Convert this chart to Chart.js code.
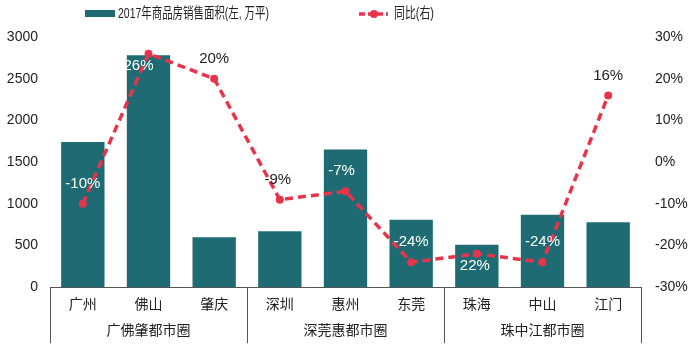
<!DOCTYPE html>
<html>
<head>
<meta charset="utf-8">
<script src="https://cdn.jsdelivr.net/npm/chart.js@4.4.1/dist/chart.umd.min.js"></script>
<style>
  html, body { margin: 0; padding: 0; background: #fff; }
  #wrap { width: 700px; height: 350px; }
</style>
</head>
<body>
<div id="wrap"><canvas id="chart"></canvas></div>
<script>
// data
const cities = ['广州', '佛山', '肇庆', '深圳', '惠州', '东莞', '珠海', '中山', '江门'];
const groups = ['广佛肇都市圈', '深莞惠都市圈', '珠中江都市圈'];
const groupSize = [3, 3, 3];
const salesArea = [1740, 2780, 600, 670, 1650, 810, 510, 870, 780];
const yoy = [-10, 26, 20, -9, -7, -24, -22, -24, 16];
const yoyLabels = ['-10%', '26%', '20%', '-9%', '-7%', '-24%', '22%', '-24%', '16%'];
const leftTicks = [0, 500, 1000, 1500, 2000, 2500, 3000];
const rightTicks = [-30, -20, -10, 0, 10, 20, 30];

const barName = '2017年商品房销售面积(左, 万平)';
const lineName = '同比(右)';
const teal = '#1f6b73';
const red = '#e8344a';
const textCol = '#222';
const FONT = '"Liberation Sans", Arial, "Noto Sans CJK SC", sans-serif';

// label tweaks (style only)
const labelDx = [0, -10, 0, -2, -4, 0, -2, 0, 0];
const labelBelow = [false, true, false, false, false, false, true, false, false];

const overlay = {
  id: 'overlay',
  afterDatasetsDraw(chart) {
    const ctx = chart.ctx;
    const barMeta = chart.getDatasetMeta(0);
    const lineMeta = chart.getDatasetMeta(1);
    ctx.save();
    ctx.font = '15px ' + FONT;
    ctx.textAlign = 'center';
    ctx.textBaseline = 'middle';
    lineMeta.data.forEach((pt, i) => {
      const lx = pt.x + labelDx[i];
      const ly = labelBelow[i] ? pt.y + 12 : pt.y - 20;
      const bar = barMeta.data[i];
      const inside = ly > bar.y + 4;
      ctx.fillStyle = inside ? '#ffffff' : textCol;
      ctx.fillText(yoyLabels[i], lx, ly);
    });
    ctx.restore();
  },
  afterDraw(chart) {
    const ctx = chart.ctx;
    const x = chart.scales.x;
    const area = chart.chartArea;
    const half = (x.getPixelForValue(1) - x.getPixelForValue(0)) / 2;
    ctx.save();
    // group separators and labels
    ctx.strokeStyle = '#555';
    ctx.lineWidth = 1;
    let start = 0;
    const edges = [];
    groupSize.forEach(n => { edges.push(start); start += n; });
    edges.push(start);
    edges.forEach(idx => {
      const px = Math.round(x.getPixelForValue(idx) - half) + 0.5;
      ctx.beginPath();
      ctx.moveTo(px, area.bottom);
      ctx.lineTo(px, area.bottom + 56);
      ctx.stroke();
    });
    ctx.fillStyle = textCol;
    ctx.font = '14px ' + FONT;
    ctx.textAlign = 'center';
    ctx.textBaseline = 'middle';
    groups.forEach((g, k) => {
      const a = x.getPixelForValue(edges[k]) - half;
      const b = x.getPixelForValue(edges[k + 1]) - half;
      ctx.fillText(g, (a + b) / 2, area.bottom + 44);
    });
    // legend
    ctx.fillStyle = teal;
    ctx.fillRect(85, 10, 30, 7);
    ctx.strokeStyle = red;
    ctx.lineWidth = 3.5;
    ctx.setLineDash([6, 3]);
    ctx.beginPath();
    ctx.moveTo(359, 14);
    ctx.lineTo(388, 14);
    ctx.stroke();
    ctx.setLineDash([]);
    ctx.fillStyle = red;
    ctx.beginPath();
    ctx.arc(374, 14, 4, 0, Math.PI * 2);
    ctx.fill();
    ctx.fillStyle = textCol;
    ctx.textAlign = 'left';
    ctx.font = '15px ' + FONT;
    ctx.save();
    ctx.translate(118, 14);
    ctx.scale(151 / ctx.measureText(barName).width, 1);
    ctx.fillText(barName, 0, 0);
    ctx.restore();
    ctx.save();
    ctx.translate(394, 14);
    ctx.scale(40 / ctx.measureText(lineName).width, 1);
    ctx.fillText(lineName, 0, 0);
    ctx.restore();
    ctx.restore();
  }
};

new Chart(document.getElementById('chart'), {
  data: {
    labels: cities,
    datasets: [
      {
        type: 'bar',
        label: barName,
        data: salesArea,
        yAxisID: 'y',
        backgroundColor: teal,
        barPercentage: 0.66,
        categoryPercentage: 1,
        order: 1
      },
      {
        type: 'line',
        label: lineName,
        data: yoy,
        yAxisID: 'y1',
        borderColor: red,
        backgroundColor: red,
        borderWidth: 3.5,
        borderDash: [8, 5],
        pointRadius: 4,
        pointBackgroundColor: red,
        pointBorderWidth: 0,
        tension: 0,
        order: 0
      }
    ]
  },
  options: {
    responsive: true,
    maintainAspectRatio: false,
    animation: false,
    layout: { padding: { top: 37, bottom: 34, left: 0, right: 0 } },
    plugins: { legend: { display: false }, tooltip: { enabled: false } },
    scales: {
      x: {
        grid: { display: false },
        border: { display: true, color: '#555', width: 1 },
        ticks: { color: textCol, font: { size: 14, family: FONT }, padding: 2 }
      },
      y: {
        position: 'left',
        min: 0, max: 3000,
        afterBuildTicks: s => { s.ticks = leftTicks.map(v => ({ value: v })); },
        afterFit: s => { s.width = 50; },
        grid: { display: false },
        border: { display: false },
        ticks: { color: textCol, font: { size: 14, family: FONT }, padding: 4, callback: v => String(v) }
      },
      y1: {
        position: 'right',
        min: -30, max: 30,
        afterBuildTicks: s => { s.ticks = rightTicks.map(v => ({ value: v })); },
        afterFit: s => { s.width = 59; },
        grid: { display: false },
        border: { display: false },
        ticks: { color: textCol, font: { size: 14, family: FONT }, padding: 6, callback: v => v + '%' }
      }
    }
  },
  plugins: [overlay]
});
</script>
</body>
</html>
